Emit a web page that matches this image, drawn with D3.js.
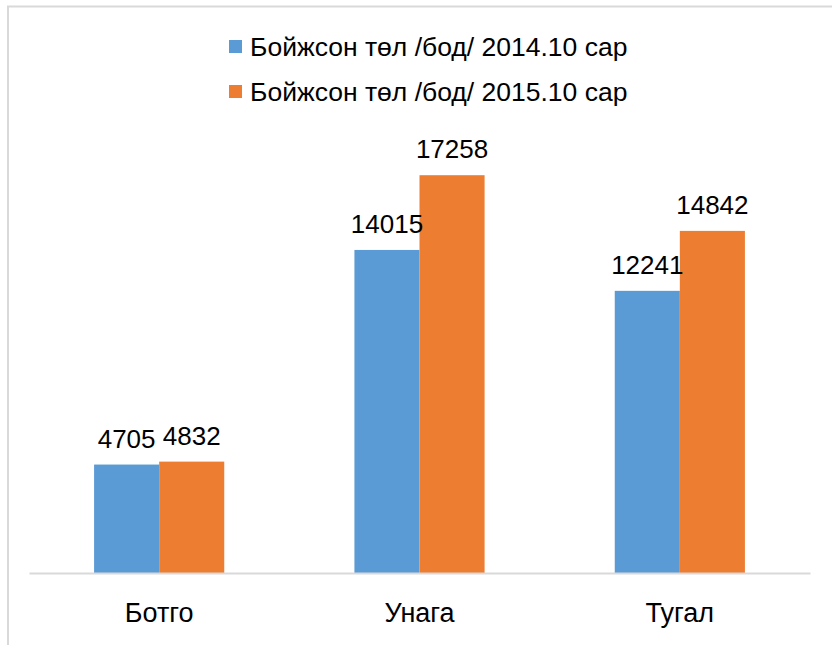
<!doctype html>
<meta charset="utf-8">

<style>
    body {
        margin: 0;
        background: #fff;
    }

    text {
        font-family: "Liberation Sans", Arial, sans-serif;
        fill: #000;
    }
</style>

<div id="chart"></div>

<script src="https://d3js.org/d3.v7.min.js"></script>

<script>

let categories = ["Ботго", "Унага", "Тугал"]
let seriesNames = ["Бойжсон төл /бод/ 2014.10 сар", "Бойжсон төл /бод/ 2015.10 сар"]
let values2014 = [4705, 14015, 12241]
let values2015 = [4832, 17258, 14842]
let colors = ["#5b9bd5", "#ed7d31"]

let width = 832
let height = 645

let svg = d3.select("#chart")
    .append("svg")
    .attr("width", width)
    .attr("height", height)

// chart border (right/bottom edges fall outside the picture)
svg.append("rect")
    .attr("x", 8)
    .attr("y", 6.5)
    .attr("width", 900)
    .attr("height", 900)
    .attr("fill", "none")
    .attr("stroke", "#d9d9d9")
    .attr("stroke-width", 2)

let plot = {left: 29, right: 810, top: 112, bottom: 573}

let xScale = d3.scaleBand()
    .domain(categories)
    .range([plot.left, plot.right])
    .paddingInner(0.5)
    .paddingOuter(0.25)

let xSub = d3.scaleBand()
    .domain([0, 1])
    .range([0, xScale.bandwidth()])

let yScale = d3.scaleLinear()
    .domain([0, 20000])
    .range([plot.bottom, plot.top])

let rows = categories.map((c, i) => ({cat: c, vals: [values2014[i], values2015[i]]}))

let groups = svg.selectAll("g.cat")
    .data(rows)
    .join("g")
    .attr("class", "cat")
    .attr("transform", d => "translate(" + xScale(d.cat) + ",0)")

groups.selectAll("rect")
    .data(d => d.vals)
    .join("rect")
    .attr("x", (d, i) => xSub(i))
    .attr("y", d => yScale(d))
    .attr("width", xSub.bandwidth())
    .attr("height", d => yScale(0) - yScale(d))
    .attr("fill", (d, i) => colors[i])

groups.selectAll("text.val")
    .data(d => d.vals)
    .join("text")
    .attr("class", "val")
    .attr("x", (d, i) => xSub(i) + xSub.bandwidth() / 2)
    .attr("y", d => yScale(d) - 17)
    .attr("text-anchor", "middle")
    .style("font-size", "26px")
    .text(d => d)

// category axis
let xAxis = d3.axisBottom(xScale).tickSize(0).tickPadding(30)
let axisG = svg.append("g")
    .attr("transform", "translate(0," + plot.bottom + ")")
    .call(xAxis)
axisG.select(".domain").attr("stroke", "#d9d9d9").attr("stroke-width", 2)
axisG.selectAll("text")
    .style("font-size", "27px")
    .attr("font-family", null)
    .attr("dy", null)
    .attr("y", 49)

// legend
let legend = svg.selectAll("g.legend")
    .data(seriesNames)
    .join("g")
    .attr("class", "legend")
    .attr("transform", (d, i) => "translate(229," + (40 + i * 45) + ")")

legend.append("rect")
    .attr("width", 13)
    .attr("height", 13)
    .attr("fill", (d, i) => colors[i])

legend.append("text")
    .attr("x", 21)
    .attr("y", 16)
    .style("font-size", "26.5px")
    .text(d => d)

</script>
